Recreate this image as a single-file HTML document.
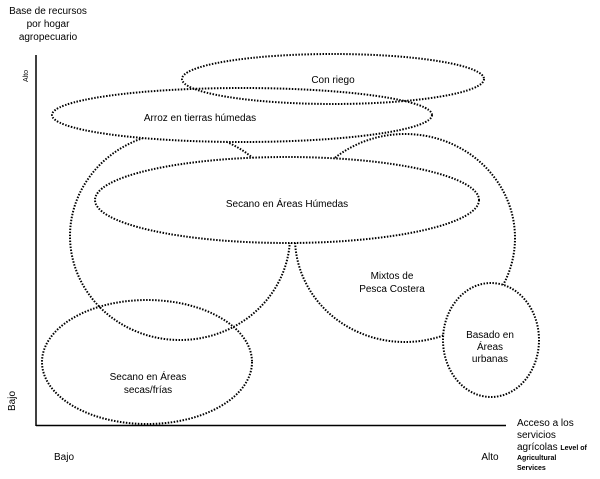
<!DOCTYPE html>
<html><head><style>
body{margin:0;background:#fff;}
svg{display:block;font-family:"Liberation Sans",Arial,sans-serif;}
</style></head><body>
<svg width="600" height="479" viewBox="0 0 600 479" xmlns="http://www.w3.org/2000/svg">
<g fill="none" stroke="#000" stroke-width="2" stroke-dasharray="1.5 1.5">
<ellipse cx="180" cy="236" rx="110" ry="104"/>
<ellipse cx="405" cy="238" rx="110" ry="104"/>
<ellipse cx="147" cy="362" rx="105" ry="62"/>
<ellipse cx="242" cy="115" rx="190" ry="27" fill="#fff"/>
<ellipse cx="287" cy="200" rx="192" ry="43" fill="#fff"/>
<ellipse cx="333" cy="79" rx="151" ry="25"/>
<ellipse cx="491" cy="340" rx="48" ry="57" fill="#fff"/>
</g>
<line x1="36" y1="55" x2="36" y2="426" stroke="#000" stroke-width="1.5"/>
<line x1="36" y1="425.5" x2="506" y2="425.5" stroke="#000" stroke-width="1.5"/>
<g font-size="10" fill="#000" text-anchor="middle">
<text x="48" y="14">Base de recursos</text>
<text x="48" y="27">por hogar</text>
<text x="48" y="40">agropecuario</text>
<text x="333" y="83">Con riego</text>
<text x="200" y="121">Arroz en tierras húmedas</text>
<text x="287" y="207">Secano en Áreas Húmedas</text>
<text x="392" y="279">Mixtos de</text>
<text x="392" y="292">Pesca Costera</text>
<text x="490" y="338">Basado en</text>
<text x="490" y="350">Áreas</text>
<text x="490" y="362">urbanas</text>
<text x="148" y="380">Secano en Áreas</text>
<text x="148" y="393">secas/frías</text>
<text x="64" y="460">Bajo</text>
<text x="490" y="460">Alto</text>
</g>
<g font-size="10" fill="#000">
<text x="517" y="426">Acceso a  los</text>
<text x="517" y="438">servicios</text>
<text x="517" y="450">agrícolas <tspan font-size="7" font-weight="bold">Level of</tspan></text>
<text x="517" y="460" font-size="7" font-weight="bold">Agricultural</text>
<text x="517" y="470" font-size="7" font-weight="bold">Services</text>
<text transform="translate(28,82) rotate(-90)" font-size="7">Alto</text>
<text transform="translate(15,411) rotate(-90)">Bajo</text>
</g>
</svg>
</body></html>
